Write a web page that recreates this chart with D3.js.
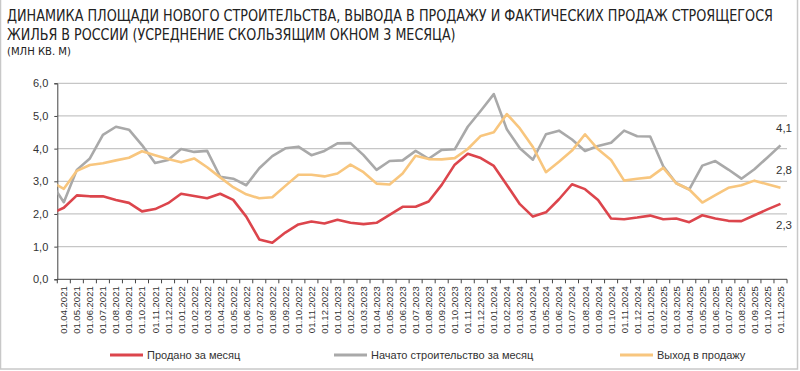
<!DOCTYPE html>
<html>
<head>
<meta charset="utf-8">
<script src="https://cdn.jsdelivr.net/npm/d3@7"></script>
<style>
  body { margin: 0; background: #fff; }
  svg { display: block; font-family: "Liberation Sans", Arial, sans-serif; }
</style>
</head>
<body>
<svg width="800" height="371"></svg>
<script>
// month before the first tick (line enters from the axis edge)
const leadMonth = "01.03.2021";
const months = [
  "01.04.2021","01.05.2021","01.06.2021","01.07.2021","01.08.2021","01.09.2021","01.10.2021","01.11.2021","01.12.2021",
  "01.01.2022","01.02.2022","01.03.2022","01.04.2022","01.05.2022","01.06.2022","01.07.2022","01.08.2022","01.09.2022","01.10.2022","01.11.2022","01.12.2022",
  "01.01.2023","01.02.2023","01.03.2023","01.04.2023","01.05.2023","01.06.2023","01.07.2023","01.08.2023","01.09.2023","01.10.2023","01.11.2023","01.12.2023",
  "01.01.2024","01.02.2024","01.03.2024","01.04.2024","01.05.2024","01.06.2024","01.07.2024","01.08.2024","01.09.2024","01.10.2024","01.11.2024","01.12.2024",
  "01.01.2025","01.02.2025","01.03.2025","01.04.2025","01.05.2025","01.06.2025","01.07.2025","01.08.2025","01.09.2025","01.10.2025","01.11.2025"
];

// values start with leadMonth
const sold = [2.01,
  2.19,2.57,2.54,2.54,2.43,2.34,2.08,2.15,2.33,
  2.62,2.55,2.48,2.62,2.43,1.92,1.22,1.12,1.43,1.68,1.77,1.71,
  1.82,1.73,1.69,1.73,1.97,2.22,2.22,2.38,2.89,3.51,3.84,3.71,
  3.47,2.89,2.30,1.92,2.05,2.45,2.91,2.76,2.43,1.86,1.84,1.89,
  1.95,1.84,1.86,1.75,1.96,1.86,1.79,1.78,1.96,2.14,2.31];
const started = [2.96,
  2.36,3.35,3.70,4.42,4.67,4.58,4.11,3.56,3.65,
  3.99,3.90,3.93,3.14,3.08,2.88,3.40,3.77,4.01,4.06,3.80,3.93,
  4.16,4.17,3.80,3.35,3.62,3.64,3.93,3.69,3.96,3.98,4.67,5.16,
  5.67,4.59,4.01,3.66,4.44,4.55,4.28,3.93,4.08,4.18,4.55,4.38,
  4.37,3.46,2.94,2.75,3.48,3.62,3.36,3.08,3.37,3.73,4.10];
const supply = [2.99,
  2.77,3.32,3.50,3.55,3.64,3.72,3.92,3.80,3.68,
  3.58,3.70,3.43,3.12,2.82,2.60,2.48,2.51,2.86,3.20,3.20,3.15,
  3.24,3.51,3.28,2.93,2.90,3.24,3.78,3.68,3.67,3.71,3.99,4.39,
  4.50,5.06,4.62,4.05,3.28,3.60,3.94,4.44,3.98,3.65,3.02,3.08,
  3.12,3.41,2.94,2.75,2.35,2.58,2.80,2.88,3.02,2.91,2.80];

const yTicks = [0, 1, 2, 3, 4, 5, 6];
const endLabels = ["2,3", "4,1", "2,8"];

const series = [
  { name: "Продано за месяц", values: sold, color: "#dc454c" },
  { name: "Начато строительство за месяц", values: started, color: "#a9a9a9" },
  { name: "Выход в продажу", values: supply, color: "#f8c67e" }
];
const legendX = [110, 334, 620];
const endLabelY = [225, 127.5, 169.5];

const svg = d3.select("svg"),
      width = +svg.attr("width"),
      height = +svg.attr("height");

const plotLeft = 57.3, plotRight = 787, plotTop = 83.3, plotBottom = 279.3;
const step = (plotRight - plotLeft) / months.length;

const x = d3.scaleBand()
    .domain([leadMonth].concat(months))
    .range([plotLeft - step, plotRight]);
const y = d3.scaleLinear().domain([0, 6]).range([plotBottom, plotTop]);

// frame
svg.append("rect")
    .attr("x", 0.5).attr("y", -2)
    .attr("width", 797).attr("height", 371)
    .attr("fill", "none").attr("stroke", "#c8c8c8").attr("stroke-width", 1.5);

// title (narrow font squeezed to the reference width)
const titleFont = '"Liberation Sans Narrow", "DejaVu Sans Condensed", sans-serif';
const titleLines = [
  { text: "ДИНАМИКА ПЛОЩАДИ НОВОГО СТРОИТЕЛЬСТВА, ВЫВОДА В ПРОДАЖУ И ФАКТИЧЕСКИХ ПРОДАЖ СТРОЯЩЕГОСЯ", y: 21, size: 16, w: 767 },
  { text: "ЖИЛЬЯ В РОССИИ (УСРЕДНЕНИЕ СКОЛЬЗЯЩИМ ОКНОМ 3 МЕСЯЦА)", y: 40, size: 16, w: 449 },
  { text: "(МЛН КВ. М)", y: 55, size: 11, w: 64 }
];
titleLines.forEach(t => {
  const el = svg.append("text")
      .attr("x", 0).attr("y", 0)
      .attr("font-family", titleFont).attr("font-size", t.size).attr("fill", "#222")
      .text(t.text);
  const natural = el.node().getComputedTextLength();
  el.attr("transform", `translate(7,${t.y}) scale(${t.w / natural},1)`);
});

// grid
svg.append("g")
    .selectAll("line")
    .data(yTicks.filter(d => d > 0))
    .join("line")
    .attr("x1", plotLeft).attr("x2", plotRight)
    .attr("y1", d => y(d)).attr("y2", d => y(d))
    .attr("stroke", "#c6c6c6").attr("stroke-width", 1.3);

// y axis
const yAxis = svg.append("g")
    .attr("transform", `translate(${plotLeft},0)`)
    .call(d3.axisLeft(y).tickValues(yTicks).tickSize(3).tickPadding(6)
        .tickFormat(d => d3.format(".1f")(d).replace(".", ",")));
yAxis.select(".domain").attr("stroke", "#444");
yAxis.selectAll(".tick line").attr("stroke", "#444");
yAxis.selectAll("text").attr("font-size", 11).attr("fill", "#333");

// x axis: ticks at band edges, labels at band centres
const xAxis = svg.append("g");
xAxis.append("line")
    .attr("x1", plotLeft).attr("x2", plotRight)
    .attr("y1", plotBottom).attr("y2", plotBottom)
    .attr("stroke", "#444");
xAxis.selectAll(".xtick")
    .data(months.concat(["end"]))
    .join("line")
    .attr("x1", (d, i) => i < months.length ? x(d) : plotRight)
    .attr("x2", (d, i) => i < months.length ? x(d) : plotRight)
    .attr("y1", plotBottom).attr("y2", plotBottom + 4)
    .attr("stroke", "#444");
xAxis.selectAll(".xlabel")
    .data(months)
    .join("text")
    .attr("transform", d => `translate(${x(d) + x.bandwidth() / 2 + 3.5},${plotBottom + 7}) rotate(-90)`)
    .attr("text-anchor", "end")
    .attr("font-size", 9.5)
    .attr("fill", "#333")
    .text(d => d);

// lines
svg.append("clipPath").attr("id", "plot")
    .append("rect").attr("x", plotLeft).attr("y", 0)
    .attr("width", plotRight - plotLeft).attr("height", plotBottom);

const line = d3.line()
    .x((d, i) => x(i === 0 ? leadMonth : months[i - 1]) + x.bandwidth() / 2)
    .y(d => y(d));

svg.append("g")
    .attr("clip-path", "url(#plot)")
    .selectAll("path")
    .data(series)
    .join("path")
    .attr("d", d => line(d.values))
    .attr("fill", "none")
    .attr("stroke", d => d.color)
    .attr("stroke-width", 2.6)
    .attr("stroke-linejoin", "round");

// end value labels
svg.selectAll(".endlabel")
    .data(series)
    .join("text")
    .attr("x", 776)
    .attr("y", (d, i) => endLabelY[i])
    .attr("dy", "0.35em")
    .attr("font-size", 11.5)
    .attr("fill", "#333")
    .text((d, i) => endLabels[i]);

// legend
const legend = svg.append("g")
    .selectAll("g")
    .data(series)
    .join("g")
    .attr("transform", (d, i) => `translate(${legendX[i]},355)`);
legend.append("line")
    .attr("x1", 0).attr("x2", 33)
    .attr("stroke", d => d.color).attr("stroke-width", 3);
legend.append("text")
    .attr("x", 37).attr("dy", "0.35em")
    .attr("font-size", 11).attr("fill", "#333")
    .text(d => d.name);
</script>
</body>
</html>
